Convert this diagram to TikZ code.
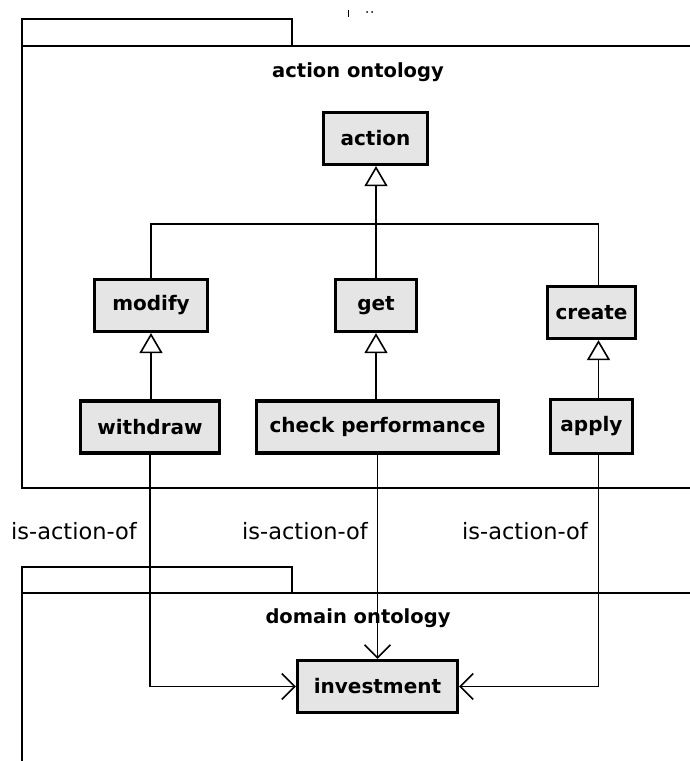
\documentclass[tikz,border=0pt]{standalone}
\usepackage{fontspec}
\setmainfont{DejaVu Sans}
\usetikzlibrary{arrows.meta}

\begin{document}
\begin{tikzpicture}[x=1pt, y=-1pt,
    cls/.style={draw, line width=3.2pt, fill=gray!20, inner sep=0pt,
      minimum height=52pt, font=\bfseries\fontsize{20}{22}\selectfont},
    pkg/.style={line width=2.8pt},
    title/.style={font=\bfseries\fontsize{19.5}{21}\selectfont},
    lbl/.style={anchor=east, inner sep=0pt, font=\fontsize{22.5}{24}\selectfont},
    gen/.style={line width=1.6pt, -{Triangle[open, width=23pt, length=20pt, line width=1.6pt]}},
    assoc/.style={line width=1.6pt, -{Straight Barb[width=26pt, length=13pt, line width=1.6pt]}}]
    \useasboundingbox (0,0) rectangle (689,761);

    % packages
    \draw[pkg] (22,46) -- (22,19) -- (292,19) -- (292,46);
    \draw[pkg] (693,46) -- (22,46) -- (22,488) -- (693,488);
    \draw[pkg] (22,593) -- (22,567) -- (292,567) -- (292,593);
    \draw[pkg] (693,593) -- (22,593) -- (22,765);
    \draw[line width=1pt] (348,10) -- (348,17);
    \fill (367,12) circle (1pt) (372,12) circle (1pt);

    \node[title] (acttitle) at (358,72) {action ontology};
    \node[title] (domtitle) at (358,618) {domain ontology};

    % classes
    \node[cls, minimum width=104pt] (action) at (375.5,138.5) {action};
    \node[cls, minimum width=113pt] (modify) at (151,305.5) {modify};
    \node[cls, minimum width=81pt] (get) at (376,305.5) {get};
    \node[cls, minimum width=88pt] (create) at (591.5,312.5) {create};
    \node[cls, minimum width=139pt] (withdraw) at (150,427) {withdraw};
    \node[cls, minimum width=242pt] (check) at (377.5,427) {check performance};
    \node[cls, minimum width=82pt, minimum height=54pt] (apply) at (591.5,426.5) {apply};
    \node[cls, minimum width=160pt] (investment) at (377.5,686.5) {investment};

    \coordinate (crtop) at ([xshift=7pt]create.north);
    \coordinate (crbot) at ([xshift=7pt]create.south);
    \coordinate (aptop) at ([xshift=7pt]apply.north);
    \coordinate (apbot) at ([xshift=7pt]apply.south);
    \coordinate (bus) at (376,224);

    % generalisation
    \draw[line width=1.6pt] (modify.north) -- (modify.north |- bus)
      -- (bus -| crtop) -- (crtop);
    \draw[gen] (get.north) -- (get.north |- action.south);
    \draw[gen] (modify.south |- withdraw.north) -- (modify.south);
    \draw[gen] (get.south |- check.north) -- (get.south);
    \draw[gen] (aptop) -- (crbot);

    % is-action-of
    \draw[assoc] (withdraw.south) |- (investment.west);
    \draw[assoc] (check.south) -- (investment.north);
    \draw[assoc] (apbot) |- (investment.east);
    \node[lbl] (lblw) at (137,531) {is-action-of};
    \node[lbl] (lblc) at (368,531) {is-action-of};
    \node[lbl] (lbla) at (588,531) {is-action-of};
  \end{tikzpicture}
\end{document}
